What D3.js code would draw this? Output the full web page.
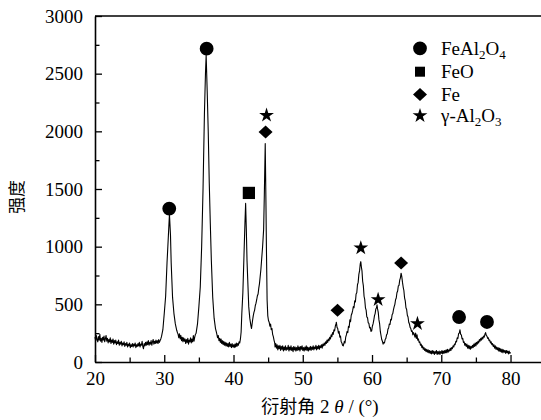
<!DOCTYPE html>
<html>
<head>
<meta charset="utf-8">
<script src="https://cdn.jsdelivr.net/npm/d3@7"></script>
<style>
	body { margin: 0; background: #fff; }
	svg { display: block; }
</style>
</head>
<body>
<div id="chart-area"></div>
<script>

// XRD pattern: [2theta, intensity]
let pattern = [
	[20.0,215],[20.1,185],[20.2,230],[20.3,195],[20.4,175],[20.5,220],[20.6,190],[20.7,240],[20.8,180],[20.9,205],
	[21.0,170],[21.1,215],[21.2,190],[21.3,225],[21.4,175],[21.5,200],[21.6,230],[21.7,180],[21.8,205],[21.9,165],
	[22.0,195],[22.1,175],[22.2,210],[22.3,160],[22.4,190],[22.5,170],[22.6,200],[22.7,155],[22.8,185],[22.9,165],
	[23.0,190],[23.1,150],[23.2,175],[23.3,160],[23.4,190],[23.5,145],[23.6,170],[23.7,155],[23.8,180],[23.9,140],
	[24.0,165],[24.1,150],[24.2,175],[24.3,135],[24.4,160],[24.5,145],[24.6,170],[24.7,130],[24.8,155],[24.9,140],
	[25.0,165],[25.1,125],[25.2,150],[25.3,135],[25.4,160],[25.5,130],[25.6,155],[25.7,140],[25.8,165],[25.9,125],
	[26.0,150],[26.1,135],[26.2,160],[26.3,140],[26.4,170],[26.5,130],[26.6,155],[26.7,145],[26.8,180],[26.9,135],
	[27.0,115],[27.1,160],[27.2,140],[27.3,170],[27.4,145],[27.5,175],[27.6,150],[27.7,185],[27.8,145],[27.9,170],
	[28.0,155],[28.1,185],[28.2,145],[28.3,175],[28.4,195],[28.5,155],[28.6,180],[28.7,160],[28.8,190],[28.9,165],
	[29.0,185],[29.1,160],[29.2,195],[29.3,170],[29.4,185],[29.5,200],[29.6,220],[29.8,280],
	[30.0,420],[30.2,570],[30.4,860],[30.6,1100],[30.75,1280],[30.9,1100],[31.0,860],[31.2,560],[31.4,420],[31.6,330],
	[31.8,275],[31.9,255],[32.0,240],[32.1,210],[32.2,245],[32.3,200],[32.4,230],[32.5,185],[32.6,215],[32.7,175],
	[32.8,210],[32.9,180],[33.0,200],[33.1,160],[33.2,195],[33.3,170],[33.4,205],[33.5,155],[33.6,190],[33.7,175],
	[33.8,210],[33.9,165],[34.0,200],[34.1,175],[34.2,230],[34.3,180],[34.4,215],[34.5,240],[34.6,250],[34.8,330],
	[35.0,480],[35.2,650],[35.4,1000],[35.6,1500],[35.8,2150],[35.95,2500],[36.05,2660],[36.2,2350],[36.35,2000],[36.5,1550],
	[36.65,1200],[36.8,880],[37.0,560],[37.2,380],[37.4,290],[37.5,265],[37.6,240],[37.7,210],[37.8,230],[37.9,185],
	[38.0,205],[38.1,170],[38.2,200],[38.3,160],[38.4,185],[38.5,150],[38.6,180],[38.7,145],[38.8,170],[38.9,140],
	[39.0,165],[39.1,135],[39.2,160],[39.3,130],[39.4,170],[39.5,135],[39.6,155],[39.7,125],[39.8,160],[39.9,130],
	[40.0,150],[40.1,125],[40.2,155],[40.3,130],[40.4,165],[40.5,135],[40.6,160],[40.7,145],[40.8,175],[40.9,165],
	[41.0,200],[41.1,260],[41.2,420],[41.35,600],[41.5,900],[41.65,1200],[41.75,1375],[41.85,1150],[41.95,880],[42.05,720],
	[42.2,480],[42.35,380],[42.5,320],[42.6,290],[42.75,360],[42.85,400],[42.95,430],[43.05,450],[43.15,490],[43.25,510],
	[43.35,540],[43.45,575],[43.55,590],[43.65,640],[43.75,680],[43.85,740],[43.95,800],[44.05,880],[44.2,1000],[44.35,1150],
	[44.45,1450],[44.58,1895],[44.68,1400],[44.75,1000],[44.85,540],[44.95,400],[45.05,360],[45.15,345],[45.25,310],[45.35,330],
	[45.45,280],[45.55,290],[45.65,240],[45.75,220],[45.85,190],[45.95,165],[46.0,130],[46.1,160],[46.2,120],[46.3,150],
	[46.4,105],[46.5,140],[46.6,115],[46.7,145],[46.8,100],[46.9,135],[47.0,110],[47.1,140],[47.2,95],[47.3,130],
	[47.4,105],[47.5,140],[47.6,100],[47.7,125],[47.8,110],[47.9,145],[48.0,95],[48.1,130],[48.2,105],[48.3,140],
	[48.4,100],[48.5,125],[48.6,90],[48.7,135],[48.8,105],[48.9,130],[49.0,95],[49.1,125],[49.2,100],[49.3,140],
	[49.4,105],[49.5,130],[49.6,95],[49.7,135],[49.8,110],[49.9,140],[50.0,100],[50.1,125],[50.2,95],[50.3,130],
	[50.4,105],[50.5,140],[50.6,100],[50.7,130],[50.8,95],[50.9,125],[51.0,105],[51.1,135],[51.2,100],[51.3,130],
	[51.4,110],[51.5,140],[51.6,105],[51.7,130],[51.8,115],[51.9,145],[52.0,105],[52.1,135],[52.2,115],[52.3,145],
	[52.4,110],[52.5,140],[52.6,125],[52.7,150],[52.8,120],[52.9,155],[53.0,140],[53.1,165],[53.2,145],[53.3,175],
	[53.4,160],[53.5,190],[53.6,170],[53.7,200],[53.8,185],[53.9,215],[54.0,200],[54.1,235],[54.2,220],[54.3,255],
	[54.4,240],[54.5,280],[54.6,270],[54.7,310],[54.8,330],[54.85,345],[54.95,300],[55.05,290],[55.15,250],[55.25,265],
	[55.35,215],[55.45,225],[55.55,175],[55.65,165],[55.75,145],[55.85,140],[55.95,165],[56.0,180],[56.1,165],[56.2,215],
	[56.3,235],[56.4,265],[56.5,255],[56.6,310],[56.7,300],[56.8,365],[56.9,350],[57.0,405],[57.1,420],[57.2,445],
	[57.3,480],[57.4,470],[57.5,530],[57.6,520],[57.7,590],[57.8,600],[57.9,670],[58.0,690],[58.1,760],[58.2,790],
	[58.3,850],[58.38,870],[58.45,830],[58.55,790],[58.65,700],[58.75,660],[58.85,570],[58.95,540],[59.05,470],[59.15,450],
	[59.25,390],[59.35,385],[59.45,340],[59.55,335],[59.65,295],[59.75,300],[59.85,265],[59.95,270],[60.05,310],[60.15,330],
	[60.25,360],[60.35,400],[60.45,420],[60.55,460],[60.65,470],[60.72,495],[60.8,460],[60.9,430],[61.0,365],[61.1,330],
	[61.2,265],[61.3,230],[61.4,195],[61.5,180],[61.6,155],[61.7,170],[61.8,165],[61.9,195],[62.0,205],[62.1,235],
	[62.2,245],[62.3,285],[62.4,295],[62.5,330],[62.6,325],[62.7,370],[62.8,365],[62.9,410],[63.0,420],[63.1,455],
	[63.2,480],[63.3,500],[63.4,540],[63.5,555],[63.6,600],[63.7,615],[63.8,660],[63.9,665],[64.0,710],[64.1,730],
	[64.2,770],[64.3,740],[64.4,690],[64.5,650],[64.6,620],[64.7,555],[64.8,530],[64.9,470],[65.0,455],[65.1,405],
	[65.2,390],[65.3,345],[65.4,330],[65.5,300],[65.6,290],[65.7,265],[65.8,270],[65.9,235],[66.0,255],[66.1,240],
	[66.2,215],[66.3,250],[66.4,205],[66.5,235],[66.6,190],[66.7,200],[66.8,170],[66.9,175],[67.0,145],[67.1,155],
	[67.2,125],[67.3,140],[67.4,110],[67.5,125],[67.6,100],[67.7,115],[67.8,90],[67.9,110],[68.0,85],[68.1,105],
	[68.2,80],[68.3,100],[68.4,75],[68.5,95],[68.6,70],[68.7,100],[68.8,75],[68.9,95],[69.0,65],[69.1,90],
	[69.2,75],[69.3,100],[69.4,65],[69.5,90],[69.6,70],[69.7,95],[69.8,65],[69.9,90],[70.0,75],[70.1,100],
	[70.2,70],[70.3,95],[70.4,75],[70.5,100],[70.6,80],[70.7,105],[70.8,80],[70.9,110],[71.0,85],[71.1,105],
	[71.2,95],[71.3,120],[71.4,100],[71.5,125],[71.6,115],[71.7,140],[71.8,130],[71.9,155],[72.0,150],[72.1,180],
	[72.2,175],[72.3,210],[72.4,205],[72.5,245],[72.6,250],[72.7,280],[72.8,240],[72.9,235],[73.0,200],[73.1,205],
	[73.2,170],[73.3,175],[73.4,145],[73.5,160],[73.6,135],[73.7,155],[73.8,120],[73.9,145],[74.0,115],[74.1,140],
	[74.2,110],[74.3,135],[74.4,120],[74.5,145],[74.6,125],[74.7,155],[74.8,135],[74.9,165],[75.0,140],[75.1,170],
	[75.2,155],[75.3,180],[75.4,165],[75.5,195],[75.6,180],[75.7,205],[75.8,190],[75.9,215],[76.0,200],[76.1,225],
	[76.2,215],[76.3,240],[76.4,255],[76.5,230],[76.6,225],[76.7,205],[76.8,210],[76.9,185],[77.0,190],[77.1,165],
	[77.2,175],[77.3,150],[77.4,160],[77.5,135],[77.6,150],[77.7,120],[77.8,140],[77.9,110],[78.0,130],[78.1,105],
	[78.2,125],[78.3,95],[78.4,120],[78.5,90],[78.6,115],[78.7,85],[78.8,110],[78.9,80],[79.0,105],[79.1,85],
	[79.2,100],[79.3,75],[79.4,100],[79.5,80],[79.6,95],[79.7,70],[79.8,95],[79.9,75],[80.0,85]
];

// Phases (legend order) - "_" marks a subscript digit
let phaseNames = ["FeAl_2O_4", "FeO", "Fe", "γ-Al_2O_3"];

// Peak markers: position, height, phase index
let markAngles  = [30.72, 36.12, 42.22, 44.63, 44.77, 55.02, 58.38, 60.88, 64.2, 66.56, 72.57, 76.6];
let markHeights = [1330, 2717, 1466, 1995, 2139, 448, 989, 541, 859, 333, 390, 347];
let markPhases  = [0, 0, 1, 2, 3, 2, 3, 3, 2, 3, 0, 0];

// Tick values
let xTicks = [20, 30, 40, 50, 60, 70, 80];
let xMinorTicks = [25, 35, 45, 55, 65, 75];
let yTicks = [0, 500, 1000, 1500, 2000, 2500, 3000];
let yMinorTicks = [250, 750, 1250, 1750, 2250, 2750];

let serif = "'Liberation Serif', 'DejaVu Serif', serif";
let cjk = "'Noto Sans CJK SC', sans-serif";

let margin = {top: 16, right: 0, bottom: 58, left: 95};
let width = 541 - margin.left - margin.right,
	height = 420 - margin.top - margin.bottom;

let svg = d3.select("#chart-area")
	.append("svg")
	.attr("width", 541)
	.attr("height", 420);

let g = svg.append("g")
	.attr("transform", "translate(" + margin.left + "," + margin.top + ")");

// Scales (frame continues past the right edge of the picture)
let xScale = d3.scaleLinear()
	.domain([20, 84.4])
	.range([0, width]);

let yScale = d3.scaleLinear()
	.domain([0, 3000])
	.range([height, 0]);

// Top frame line
g.append("line")
	.attr("x1", 0).attr("x2", width + 5)
	.attr("y1", 0).attr("y2", 0)
	.attr("stroke", "#000")
	.attr("stroke-width", 1.5);

// Minor ticks
g.append("g")
	.attr("transform", "translate(0," + height + ")")
	.call(d3.axisBottom(xScale).tickValues(xMinorTicks).tickSizeInner(-4.5).tickSizeOuter(0).tickFormat(""))
	.call(s => s.select(".domain").remove())
	.selectAll("line").attr("stroke", "#000").attr("stroke-width", 1.3);

g.append("g")
	.call(d3.axisLeft(yScale).tickValues(yMinorTicks).tickSizeInner(-4.5).tickSizeOuter(0).tickFormat(""))
	.call(s => s.select(".domain").remove())
	.selectAll("line").attr("stroke", "#000").attr("stroke-width", 1.3);

// Major x axis
let xAxis = d3.axisBottom(xScale)
	.tickValues(xTicks)
	.tickSizeInner(-7)
	.tickSizeOuter(0)
	.tickPadding(10)
	.tickFormat(d3.format("d"));

let xAxisGroup = g.append("g")
	.attr("class", "axis x-axis")
	.attr("transform", "translate(0," + height + ")")
	.call(xAxis);

// Major y axis
let yAxis = d3.axisLeft(yScale)
	.tickValues(yTicks)
	.tickSizeInner(-7)
	.tickSizeOuter(0)
	.tickPadding(12)
	.tickFormat(d3.format("d"));

let yAxisGroup = g.append("g")
	.attr("class", "axis y-axis")
	.call(yAxis);

[xAxisGroup, yAxisGroup].forEach(a => {
	a.select(".domain").attr("stroke", "#000").attr("stroke-width", 1.6);
	a.selectAll("line").attr("stroke", "#000").attr("stroke-width", 1.3);
	a.selectAll("text")
		.attr("fill", "#000")
		.style("font-family", serif)
		.style("font-size", "19px");
});

// The diffraction line
let lineGen = d3.line()
	.x(d => xScale(d[0]))
	.y(d => yScale(d[1]));

g.append("path")
	.datum(pattern)
	.attr("d", lineGen)
	.attr("fill", "none")
	.attr("stroke", "#000")
	.attr("stroke-width", 1.1)
	.attr("stroke-linejoin", "round");

// Marker shapes per phase
let diamond = {
	draw(context, size) {
		let r = Math.sqrt(size) / 2 * Math.SQRT2;
		context.moveTo(0, -r * 0.93);
		context.lineTo(r, 0);
		context.lineTo(0, r * 0.93);
		context.lineTo(-r, 0);
		context.closePath();
	}
};
let shapes = [d3.symbolCircle, d3.symbolSquare, diamond, d3.symbolStar];
let sizes = [150, 150, 98, 68];

let marks = markAngles.map((a, i) => ({angle: a, height: markHeights[i], phase: markPhases[i]}));

g.selectAll(".peak-mark")
	.data(marks)
	.enter()
	.append("path")
	.attr("class", "peak-mark")
	.attr("transform", d => "translate(" + xScale(d.angle) + "," + yScale(d.height) + ")")
	.attr("d", d => d3.symbol().type(shapes[d.phase]).size(sizes[d.phase])())
	.attr("fill", "#000");

// Legend
let legendRows = [48.3, 71.7, 94.5, 115.7];
let legendSizes = [150, 100, 98, 68];

let legend = svg.append("g").attr("class", "legend");

legend.selectAll("path")
	.data(phaseNames)
	.enter()
	.append("path")
	.attr("transform", (d, i) => "translate(420," + legendRows[i] + ")")
	.attr("d", (d, i) => d3.symbol().type(shapes[i]).size(legendSizes[i])())
	.attr("fill", "#000");

let legendText = legend.selectAll("text")
	.data(phaseNames)
	.enter()
	.append("text")
	.attr("x", 441)
	.attr("y", (d, i) => legendRows[i] + 6.5)
	.style("font-family", serif)
	.style("font-size", "19px");

// Split each name into plain and subscript pieces
legendText.each(function(d) {
	let t = d3.select(this);
	let lowered = false;
	d.split(/(_\d)/).filter(s => s.length).forEach(s => {
		if (s[0] === "_") {
			t.append("tspan").attr("font-size", "13px").attr("dy", 4).text(s[1]);
			lowered = true;
		} else {
			t.append("tspan").attr("dy", lowered ? -4 : 0).text(s);
			lowered = false;
		}
	});
});

// Axis titles
svg.append("text")
	.attr("transform", "translate(23,197) rotate(-90)")
	.attr("text-anchor", "middle")
	.style("font-family", cjk)
	.style("font-size", "17px")
	.text("强度");

let xTitle = svg.append("text")
	.attr("x", 320)
	.attr("y", 413)
	.attr("text-anchor", "middle")
	.style("font-family", cjk)
	.style("font-size", "18px");

xTitle.append("tspan").text("衍射角");
xTitle.append("tspan").style("font-family", serif).style("font-size", "19px").text(" 2");
xTitle.append("tspan").style("font-family", serif).style("font-style", "italic").style("font-size", "19px").text(" θ ");
xTitle.append("tspan").style("font-family", serif).style("font-size", "19px").text("/ (°)");

</script>
</body>
</html>
